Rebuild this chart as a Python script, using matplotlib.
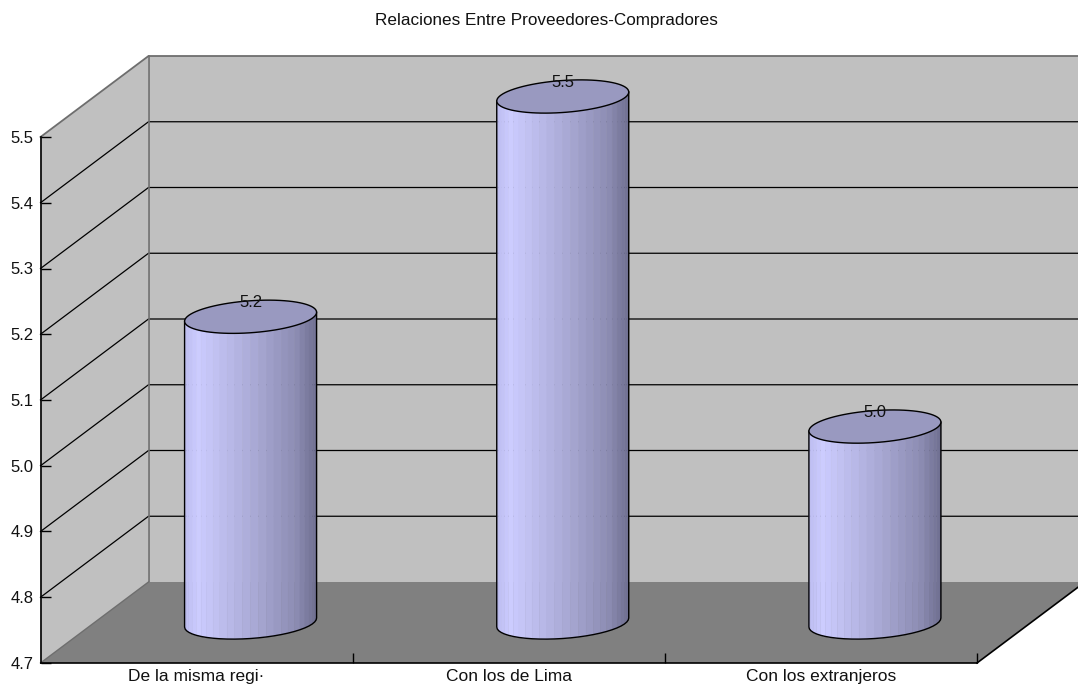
import numpy as np
import matplotlib
matplotlib.use('Agg')
import matplotlib.pyplot as plt
from matplotlib.colors import LinearSegmentedColormap

categories = ['De la misma regi·', 'Con los de Lima', 'Con los extranjeros']
values = [5.165, 5.5, 4.998]
y_ticks = [4.7, 4.8, 4.9, 5.0, 5.1, 5.2, 5.3, 5.4, 5.5]
title = 'Relaciones Entre Proveedores-Compradores'

W, H = 1078, 688
LEFT, RIGHT, TOP, BOTTOM = 40.5, 977, 137, 663
DX_PX, DY_PX = 108, 81

plt.rcParams['font.family'] = ['Liberation Sans', 'DejaVu Sans']
fig = plt.figure(figsize=(W / 100, H / 100), dpi=100)
ax = fig.add_axes([LEFT / W, (H - BOTTOM) / H, (RIGHT - LEFT) / W, (BOTTOM - TOP) / H])
ymin, ymax = y_ticks[0], y_ticks[-1]
ax.set_xlim(0, len(categories))
ax.set_ylim(ymin, ymax)
ax.patch.set_visible(False)
ax.set_axisbelow(False)

# pixels to data units, the 3d look is only an offset of the front plane
px_x = len(categories) / (RIGHT - LEFT)
px_y = (ymax - ymin) / (BOTTOM - TOP)
dx = DX_PX * px_x
dy = DY_PX * px_y
n = len(categories)

wall = '#c0c0c0'
edge = '#6e6e6e'
# back wall, left wall, floor
ax.fill([dx, n + dx, n + dx, dx], [ymin + dy, ymin + dy, ymax + dy, ymax + dy],
        color=wall, lw=0, clip_on=False, zorder=1)
ax.fill([0, dx, dx, 0], [ymin, ymin + dy, ymax + dy, ymax], color=wall, lw=0, clip_on=False, zorder=1)
ax.fill([0, n, n + dx, dx], [ymin, ymin, ymin + dy, ymin + dy], color='#808080', lw=0, clip_on=False, zorder=2)

for v in y_ticks[1:-1]:
    ax.plot([0, dx, n + dx], [v, v + dy, v + dy], color='black', lw=0.9, clip_on=False, zorder=1.5)
ax.plot([0, dx, n + dx], [ymax, ymax + dy, ymax + dy], color=edge, lw=1.3, clip_on=False, zorder=1.5)
ax.plot([dx, dx], [ymin + dy, ymax + dy], color=edge, lw=1.2, clip_on=False, zorder=1.5)
ax.plot([0, dx], [ymin, ymin + dy], color=edge, lw=1, clip_on=False, zorder=3)
ax.plot([n, n + dx], [ymin, ymin + dy], color='black', lw=1.2, clip_on=False, zorder=4)

shade = LinearSegmentedColormap.from_list('cyl', [
    (0.0, '#bcbcf0'), (0.1, '#ccccff'), (0.5, '#acacd8'), (0.85, '#8c8cb2'), (1.0, '#6e6e90')])
top_colour = '#9999c0'

r = 66 * px_x
b = 16 * px_y
tilt = 4.5 * px_y
base = ymin + dy / 2
steps = 26


def rim(cx, cy, t):
    return cx + r * np.cos(t), cy + tilt * np.cos(t) - b * np.sin(t)


for i, (cat, v) in enumerate(zip(categories, values)):
    cx = i + 0.5 + dx / 2
    cy = v + dy / 2
    t = np.linspace(np.pi, 0, steps + 1)
    for k in range(steps):
        tt = np.linspace(t[k], t[k + 1], 3)
        xt, yt = rim(cx, cy, tt)
        xb, yb = rim(cx, base, tt)
        frac = (0.5 * (xt[0] + xt[-1]) - (cx - r)) / (2 * r)
        ax.fill(np.r_[xt, xb[::-1]], np.r_[yt, yb[::-1]], color=shade(frac), lw=0.3, clip_on=False, zorder=5)
    # outline and top cap
    xb, yb = rim(cx, base, t)
    xt, yt = rim(cx, cy, t)
    ax.plot(np.r_[xt[0], xb, xt[-1]], np.r_[yt[0], yb, yt[-1]], color='black', lw=1, clip_on=False, zorder=6)
    ring = np.linspace(0, 2 * np.pi, 80)
    xr, yr = rim(cx, cy, ring)
    ax.fill(xr, yr, facecolor=top_colour, edgecolor='black', lw=1, clip_on=False, zorder=7)
    ax.text(cx, cy + 14 * px_y, '%.1f' % v, ha='center', va='center', fontsize=12, color='#111111', zorder=8)

for s in ['top', 'right']:
    ax.spines[s].set_visible(False)
for s in ['left', 'bottom']:
    ax.spines[s].set_linewidth(1.2)
    ax.spines[s].set_zorder(9)

ax.set_yticks(y_ticks)
ax.set_yticklabels(['%.1f' % v for v in y_ticks], fontsize=12, color='#111111')
ax.set_xticks(range(1, n + 1))
ax.set_xticklabels([])
ax.set_xticks(np.arange(n) + 0.5, categories, minor=True, fontsize=12.5, color='#111111')
ax.tick_params(axis='y', direction='in', length=7, width=1, pad=5)
ax.tick_params(axis='x', which='major', direction='in', length=7, width=1)
ax.tick_params(axis='x', which='minor', length=0, pad=4.5)

fig.text(546 / W, 1 - 21 / H, title, ha='center', va='center', fontsize=12.3, color='#111111')

fig.savefig('out.png', dpi=100, facecolor='white')
